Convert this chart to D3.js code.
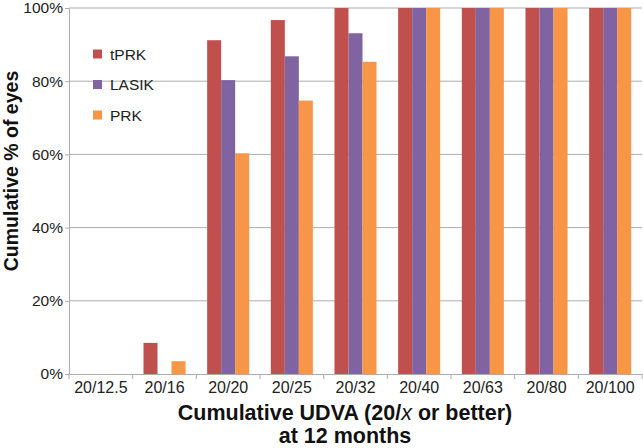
<!DOCTYPE html>
<html><head><meta charset="utf-8">
<script src="https://cdn.jsdelivr.net/npm/d3@7"></script>
<style>body{margin:0;background:#fff}svg{display:block;font-family:"Liberation Sans",Arial,sans-serif}</style>
</head><body><svg id="c" width="643" height="448"></svg>
<script>
const categories = ["20/12.5","20/16","20/20","20/25","20/32","20/40","20/63","20/80","20/100"];
const seriesNames = ["tPRK","LASIK","PRK"];
const tPRK  = [0, 8.5, 91.2, 96.7, 100, 100, 100, 100, 100];
const LASIK = [0, 0, 80.3, 86.8, 93.1, 100, 100, 100, 100];
const PRK   = [0, 3.5, 60.3, 74.7, 85.3, 100, 100, 100, 100];
const yTicks = [0, 20, 40, 60, 80, 100];
const colors = ["#c0504d", "#8064a2", "#f79646"];

const values = [tPRK, LASIK, PRK];
const svg = d3.select("#c");
const m = {l: 69, r: 642, t: 8, b: 374};
const FF = "Liberation Sans, Arial, sans-serif";

const x = d3.scaleBand().domain(categories).range([m.l, m.r]).paddingInner(0).paddingOuter(0);
const x1 = d3.scaleBand().domain(seriesNames).range([0, x.bandwidth()*0.66]);
const y = d3.scaleLinear().domain([0, 100]).range([m.b, m.t]);

// gridlines
svg.append("g").selectAll("line").data(yTicks.filter(d => d > 0)).join("line")
  .attr("x1", m.l).attr("x2", m.r).attr("y1", d => y(d)).attr("y2", d => y(d))
  .attr("stroke", "#adadad").attr("stroke-width", 1);

// y axis
const ya = svg.append("g").attr("transform", `translate(${m.l},0)`)
  .call(d3.axisLeft(y).tickValues(yTicks).tickFormat(d => d + "%").tickSize(4).tickPadding(2));
ya.select(".domain").attr("stroke", "#adadad");
ya.selectAll(".tick line").attr("stroke", "#adadad");
ya.selectAll("text").attr("font-size", 15.5).attr("fill", "#222").attr("font-family", FF);

// bars
const off = (x.bandwidth() - x.bandwidth()*0.66) / 2;
seriesNames.forEach((s, si) => {
  svg.append("g").selectAll("rect").data(categories).join("rect")
    .attr("x", c => x(c) + off + x1(s))
    .attr("width", x1.bandwidth())
    .attr("y", (c, i) => y(values[si][i]))
    .attr("height", (c, i) => y(0) - y(values[si][i]))
    .attr("fill", colors[si]);
});

// x axis
const xa = svg.append("g").attr("transform", `translate(0,${m.b})`)
  .call(d3.axisBottom(x).tickSize(0).tickPadding(8));
xa.select(".domain").attr("stroke", "#adadad");
xa.selectAll("text").attr("font-size", 16).attr("fill", "#222").attr("font-family", FF);
const bounds = categories.map(c => x(c)).concat([m.r]);
svg.append("g").selectAll("line").data(bounds).join("line")
  .attr("x1", d => d).attr("x2", d => d).attr("y1", m.b).attr("y2", m.b + 5)
  .attr("stroke", "#adadad");

// legend
const lg = svg.append("g");
seriesNames.forEach((s, i) => {
  const cy = 54 + i * 30.5;
  lg.append("rect").attr("x", 93).attr("y", cy - 4.5).attr("width", 9).attr("height", 9).attr("fill", colors[i]);
  lg.append("text").attr("x", 110).attr("y", cy + 5.5).attr("font-size", 15.5).attr("fill", "#222").text(s);
});

// axis titles
const xt = svg.append("text").attr("x", 345).attr("y", 420).attr("text-anchor", "middle")
  .attr("font-size", 21.5).attr("font-weight", "bold").attr("fill", "#111");
xt.append("tspan").text("Cumulative UDVA (20/");
xt.append("tspan").attr("font-style", "italic").attr("font-weight", "normal").text("x");
xt.append("tspan").text(" or better)");
xt.append("tspan").attr("x", 345).attr("y", 443).text("at 12 months");
svg.append("text").attr("transform", "translate(18,171) rotate(-90)").attr("text-anchor", "middle")
  .attr("font-size", 19.5).attr("font-weight", "bold").attr("fill", "#111").text("Cumulative % of eyes");
</script></body></html>
